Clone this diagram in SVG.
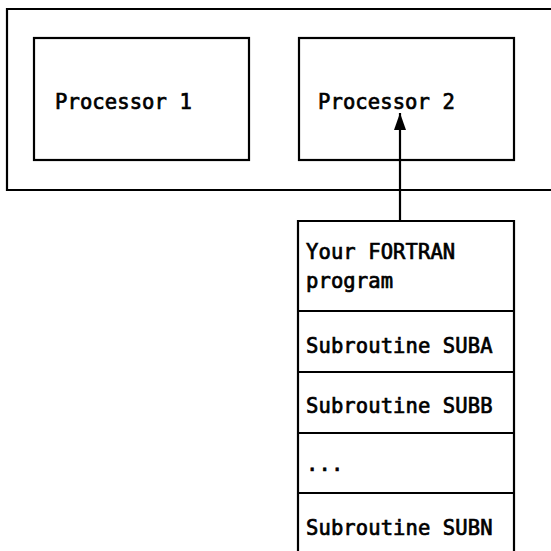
<svg xmlns="http://www.w3.org/2000/svg" width="551" height="551" viewBox="0 0 551 551">
<defs>
<style>
.box{fill:none;stroke:#000;stroke-width:2.2}
.t{font-family:"DejaVu Sans Mono","Liberation Mono",monospace;font-size:20.5px;letter-spacing:0.1px;fill:#000;stroke:#000;stroke-width:0.7px}
.ln{stroke:#000;stroke-width:2.2;fill:none}
</style>
<marker id="ah" markerWidth="17" markerHeight="12" refX="17" refY="6" orient="auto" markerUnits="userSpaceOnUse" viewBox="0 0 17 12">
<path d="M0,0 L17,6 L0,12 Z" fill="#000"/>
</marker>
</defs>
<rect width="551" height="551" fill="#fff"/>
<g id="system">
<path class="box" d="M560,9 L7,9 L7,190 L560,190"/>
</g>
<g id="processor1">
<rect class="box" x="34" y="38" width="215" height="122"/>
<text class="t" x="55" y="109">Processor 1</text>
</g>
<g id="processor2">
<rect class="box" x="299" y="38" width="215" height="122"/>
<text class="t" x="318" y="109">Processor 2</text>
</g>
<g id="program-stack">
<path class="box" d="M298,560 L298,221 L514,221 L514,560"/>
<line class="ln" x1="298" y1="311" x2="514" y2="311"/>
<line class="ln" x1="298" y1="372" x2="514" y2="372"/>
<line class="ln" x1="298" y1="433" x2="514" y2="433"/>
<line class="ln" x1="298" y1="493" x2="514" y2="493"/>
<text class="t" x="306" y="259">Your FORTRAN</text>
<text class="t" x="306" y="288">program</text>
<text class="t" x="306" y="353">Subroutine SUBA</text>
<text class="t" x="306" y="413">Subroutine SUBB</text>
<text class="t" x="306" y="471">...</text>
<text class="t" x="306" y="535">Subroutine SUBN</text>
</g>
<g id="connectors">
<line class="ln" x1="400" y1="221" x2="400" y2="113" marker-end="url(#ah)"/>
</g>
</svg>
